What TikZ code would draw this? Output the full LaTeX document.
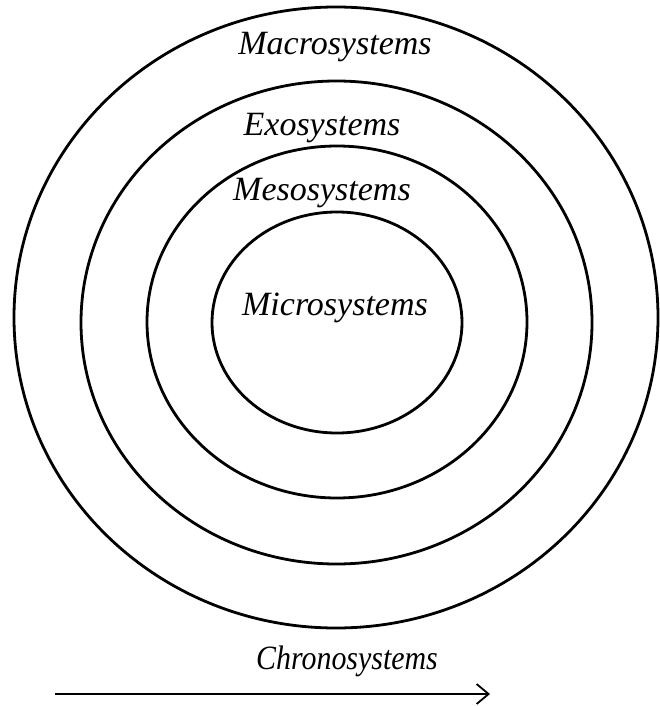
\documentclass[tikz,border=0pt]{standalone}
\usepackage{fontspec}
\setmainfont{Liberation Serif}
\usepackage{graphicx}
\usepackage{tikz}
\usetikzlibrary{arrows.meta, positioning}

\begin{document}
\begin{tikzpicture}[
  x=0.5pt, y=-0.5pt,
  ring/.style={draw, line width=1.4pt},
  lbl/.style={anchor=base, inner sep=0pt, font=\fontsize{17}{20}\selectfont\itshape},
  arrow/.style={-{Straight Barb[length=6pt, width=10pt]}, line width=0.9pt},
]
\useasboundingbox (0,0) rectangle (659,706);

% nested systems
\draw[ring] (336,317.5) ellipse [x radius=322, y radius=310.5];
\draw[ring] (336.5,322.5) ellipse [x radius=255.5, y radius=241.5];
\draw[ring] (337,322) ellipse [x radius=190, y radius=176];
\draw[ring] (337,322.5) ellipse [x radius=125, y radius=110.5];

\node[lbl] (macro) at (335,55) {Macrosystems};
\node[lbl] (exo) at (322,135) {Exosystems};
\node[lbl] (meso) at (322,200) {Mesosystems};
\node[lbl] (micro) at (335,315) {Microsystems};
\node[lbl] (chrono) at (347,669) {\scalebox{0.88}[1]{Chronosystems}};

\coordinate (tstart) at (55,694);
\coordinate (tend) at (490,694);
\draw[arrow] (tstart) -- (tend);

\end{tikzpicture}
\end{document}
